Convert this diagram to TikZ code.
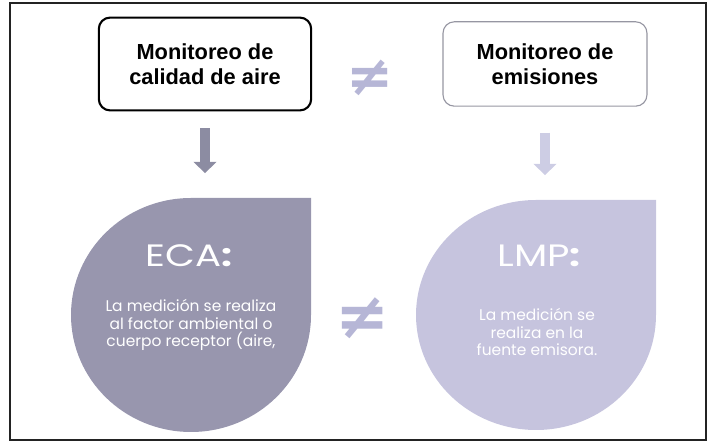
\documentclass[tikz,border=0pt]{standalone}
\usepackage{xcolor}
\usepackage{fontspec}
\setmainfont{Liberation Sans}
\newfontfamily\dropfont{Poppins}
\newfontfamily\symfont{DejaVu Sans}
\usepackage{tikz}
\usetikzlibrary{arrows.meta}

\definecolor{framecol}{RGB}{35,35,35}
\definecolor{boxgray}{RGB}{150,150,162}
\definecolor{ecacol}{RGB}{152,150,174}
\definecolor{lmpcol}{RGB}{198,196,222}
\definecolor{arrowdark}{RGB}{140,140,162}
\definecolor{arrowlight}{RGB}{205,205,228}
\definecolor{neqcol}{RGB}{182,182,214}

\tikzset{
    box/.style={rounded corners=8pt,align=center,font=\bfseries\fontsize{15.5}{18}\selectfont,text=black},
    droptitle/.style={text=white,xscale=1.25,font=\dropfont\fontsize{22}{24}\selectfont},
    droptext/.style={text=white,align=center,font=\dropfont\fontsize{11}{12.2}\selectfont},
    bigarrow/.style={line width=7pt,-{Triangle[width=16pt,length=8pt]}},
    neq/.style={text=neqcol,font=\symfont\bfseries\fontsize{40}{40}\selectfont,inner sep=0pt}
}

\begin{document}
\begin{tikzpicture}[x=0.025cm,y=-0.025cm]
    \useasboundingbox (0,0) rectangle (711,444);
    \draw[line width=2pt,framecol] (10,3) rectangle (706,440);

    % upper boxes
    \node[box,draw=black,line width=1.5pt,minimum width=151pt,minimum height=66pt] (aire) at (205,64) {Monitoreo de\\calidad de aire};
    \node[box,draw=boxgray,line width=0.8pt,minimum width=145pt,minimum height=60pt] (emis) at (545,64) {Monitoreo de\\emisiones};
    \node[neq] (neq1) at (370,78) {≠};

    % drops
    \fill[ecacol] (311,198) -- (311,315) arc[start angle=0,end angle=180,x radius=120,y radius=117]
        arc[start angle=180,end angle=270,x radius=120,y radius=117] -- cycle;
    \fill[lmpcol] (656,200) -- (656,315) arc[start angle=0,end angle=180,x radius=120,y radius=115]
        arc[start angle=180,end angle=270,x radius=120,y radius=115] -- cycle;
    \coordinate (ecatop) at (205,198);
    \coordinate (lmptop) at (545,200);

    \node[droptitle] (eca) at (189,256) {ECA\textbf{:}};
    \node[droptext] (ecatxt) at (191,325) {La medición se realiza\\al factor ambiental o\\cuerpo receptor (aire,};
    \node[droptitle] (lmp) at (539,256) {LMP\textbf{:}};
    \node[droptext] (lmptxt) at (537,332) {La medición se\\realiza en la\\fuente emisora.};
    \node[neq,font=\symfont\bfseries\fontsize{46}{46}\selectfont] (neq2) at (363,318) {≠};

    % arrows
    \draw[bigarrow,arrowdark,shorten <=12pt,shorten >=17.7pt] (aire.south) -- (ecatop);
    \draw[bigarrow,arrowlight,shorten <=18.4pt,shorten >=17.7pt] (emis.south) -- (lmptop);
\end{tikzpicture}
\end{document}
